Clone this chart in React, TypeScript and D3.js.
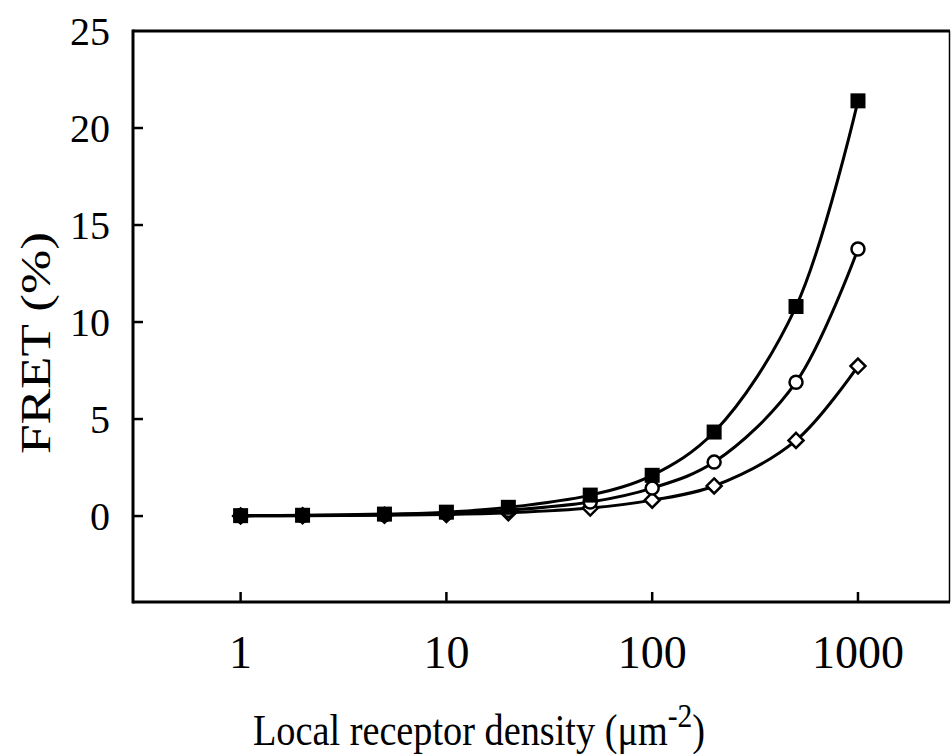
import React from "react";
import * as d3 from "d3";

// Receptor densities (µm^-2) and FRET efficiencies (%) for three donor/acceptor conditions
const densities = [1, 2, 5, 10, 20, 50, 100, 200, 500, 1000];
const squareSeries = [0.02, 0.04, 0.1, 0.2, 0.45, 1.08, 2.1, 4.33, 10.8, 21.4];
const circleSeries = [0.01, 0.03, 0.07, 0.14, 0.3, 0.72, 1.44, 2.78, 6.9, 13.76];
const diamondSeries = [0.008, 0.016, 0.04, 0.08, 0.17, 0.41, 0.82, 1.55, 3.9, 7.73];
const xTicks = [1, 10, 100, 1000];
const yTicks = [0, 5, 10, 15, 20, 25];

const W = 951;
const H = 754;
const left = 133;
const right = 950;
const top = 31;
const bottom = 602;
const font = "'Liberation Serif', 'Times New Roman', serif";

export default function App() {
  const x = d3.scaleLog().domain([0.3, 2800]).range([left, right]);
  const y = d3.scaleLinear().domain([-4.43, 25]).range([bottom, top]);

  const line = d3
    .line<[number, number]>()
    .x((d) => x(d[0]))
    .y((d) => y(d[1]))
    .curve(d3.curveCatmullRom.alpha(0.5));

  const series = [
    { key: "diamond", values: diamondSeries },
    { key: "circle", values: circleSeries },
    { key: "square", values: squareSeries },
  ];

  const marker = (kind: string, cx: number, cy: number, i: number) => {
    if (kind === "square") {
      return <rect key={i} x={cx - 7.5} y={cy - 7.5} width={15} height={15} fill="#000" />;
    }
    if (kind === "circle") {
      return <circle key={i} cx={cx} cy={cy} r={6.5} fill="#fff" stroke="#000" strokeWidth={2.5} />;
    }
    const s = 7.5;
    return (
      <path
        key={i}
        d={`M${cx},${cy - s}L${cx + s},${cy}L${cx},${cy + s}L${cx - s},${cy}Z`}
        fill="#fff"
        stroke="#000"
        strokeWidth={2.5}
      />
    );
  };

  return (
    <svg
      width={W}
      height={H}
      style={{ position: "absolute", left: 0, top: 0, background: "#fff" }}
      fontFamily={font}
    >
      {/* frame */}
      <line x1={left} x2={right} y1={top} y2={top} stroke="#000" strokeWidth={3} />
      <line x1={right - 0.5} x2={right - 0.5} y1={top} y2={bottom} stroke="#000" strokeWidth={1.5} />
      <line x1={left} x2={right} y1={bottom} y2={bottom} stroke="#000" strokeWidth={3} />
      <line x1={left} x2={left} y1={top - 1.5} y2={bottom + 1.5} stroke="#000" strokeWidth={3} />

      {/* y ticks */}
      {yTicks.map((t) => (
        <g key={t}>
          {t < 25 && <line x1={left} x2={left + 10} y1={y(t)} y2={y(t)} stroke="#000" strokeWidth={2.5} />}
          <text x={110} y={y(t)} dy="0.35em" textAnchor="end" fontSize={40}>
            {t}
          </text>
        </g>
      ))}

      {/* x ticks */}
      {xTicks.map((t) => (
        <g key={t}>
          <line x1={x(t)} x2={x(t)} y1={bottom} y2={bottom - 10} stroke="#000" strokeWidth={2.5} />
          <text x={x(t)} y={668} textAnchor="middle" fontSize={46}>
            {t}
          </text>
        </g>
      ))}

      {/* curves */}
      {series.map((s) => (
        <path
          key={s.key}
          d={line(densities.map((d, i) => [d, s.values[i]] as [number, number])) || ""}
          fill="none"
          stroke="#000"
          strokeWidth={3}
        />
      ))}
      {series.map((s) => (
        <g key={s.key + "-m"}>
          {densities.map((d, i) => marker(s.key, x(d), y(s.values[i]), i))}
        </g>
      ))}

      {/* axis titles */}
      <text transform="translate(253, 745) scale(0.87, 1)" fontSize={44}>
        Local receptor density (μm
        <tspan dy={-18} fontSize={34}>-2</tspan>
        <tspan dy={18}>)</tspan>
      </text>
      <text
        transform={`translate(50, 343) rotate(-90)`}
        textAnchor="middle"
        fontSize={43}
        textLength={222}
        lengthAdjust="spacingAndGlyphs"
      >
        FRET (%)
      </text>
    </svg>
  );
}
